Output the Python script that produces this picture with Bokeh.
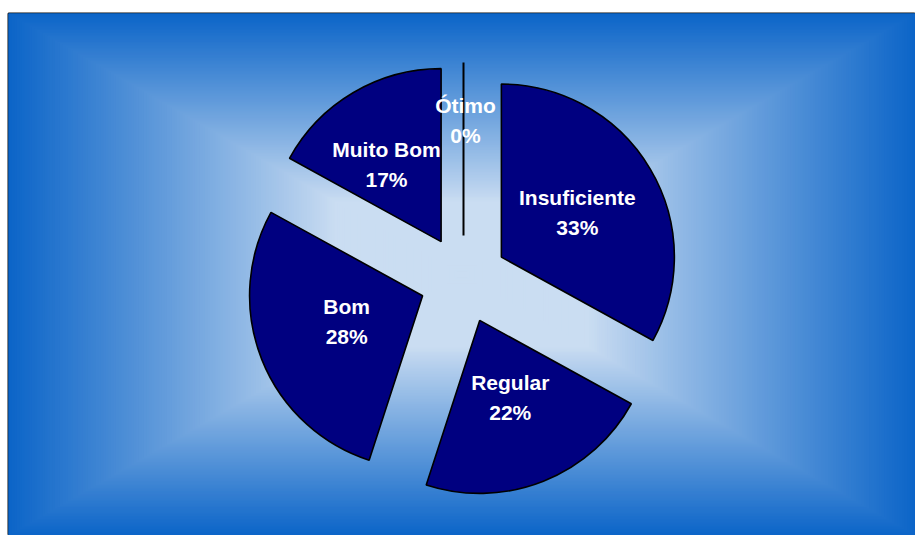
import numpy as np
from bokeh.plotting import figure
from bokeh.models import Range1d, ColumnDataSource
from bokeh.core.properties import value
from bokeh.embed import file_html
from bokeh.resources import INLINE

# ---- data ----
categories = ["Insuficiente", "Regular", "Bom", "Muito Bom", "Ótimo"]
values = [33, 22, 28, 17, 0]

# ---- layout / style ----
W, H = 907, 522
CX, CY = 455, 256        # pie centre (data units = pixels)
R = 173                  # radius
EXPLODE = 44             # explosion distance
label_frac = [0.51, 0.48, 0.464, 0.546, 0.665]
label_turn = [0.0, 0.0, -2.7, 4.7, -1.0]   # degrees
SLICE = "#000080"

p = figure(width=W + 8, height=H + 13, x_range=Range1d(0, W), y_range=Range1d(0, H),
           output_backend="svg", toolbar_location=None,
           x_axis_location=None, y_axis_location=None,
           min_border_left=8, min_border_right=0, min_border_top=13, min_border_bottom=0)
p.grid.visible = False
p.outline_line_color = "#111111"
p.outline_line_width = 2
p.border_fill_color = "white"
p.background_fill_color = "#0864c8"

# ---- rectangular "from centre" gradient background ----
c_in = np.array([202, 221, 242])
c_out = np.array([10, 100, 200])
N = 180
gx, gy = W / 2, H / 2
ts = 1 - np.arange(N) / N
s = np.clip((ts - 0.28) / 0.72, 0, 1) ** 0.95
cols = []
for sv in s:
    c = (c_in + (c_out - c_in) * sv).astype(int)
    cols.append("#%02x%02x%02x" % tuple(c))
p.quad(left=gx - gx * ts * 1.01, right=gx + gx * ts * 1.01,
       bottom=gy - gy * ts * 1.01, top=gy + gy * ts * 1.01,
       fill_color=cols, line_color=None)

# ---- pie geometry from data ----
vals = np.array(values, dtype=float)
frac = vals / vals.sum()
cum = np.concatenate([[0], np.cumsum(frac)])
start = np.deg2rad(90 - 360 * cum[:-1])
end = np.deg2rad(90 - 360 * cum[1:])
mid = (start + end) / 2
ax = CX + EXPLODE * np.cos(mid)
ay = CY + EXPLODE * np.sin(mid)

nz = vals > 0
src = ColumnDataSource(dict(x=ax[nz], y=ay[nz], start=start[nz], end=end[nz]))
p.wedge(x="x", y="y", radius=R, start_angle="start", end_angle="end",
        direction="clock", fill_color=SLICE, line_color="black", line_width=1.6,
        source=src)

# zero-value slices drawn as a single radius line
z = ~nz
p.segment(x0=ax[z], y0=ay[z], x1=ax[z] + R * np.cos(mid[z]), y1=ay[z] + R * np.sin(mid[z]),
          line_color="black", line_width=2)

# ---- labels ----
lf = np.array(label_frac)
la = mid + np.deg2rad(label_turn)
lx = ax + lf * R * np.cos(la)
ly = ay + lf * R * np.sin(la)
texts = [f"{c}\n{round(f * 100)}%" for c, f in zip(categories, frac)]
p.text(x=lx, y=ly, text=texts, text_align="center", text_baseline="middle",
       text_color="white", text_font=value("Liberation Sans"), text_font_style="bold",
       text_font_size="21px", text_line_height=1.32)

open("out.html", "w").write(file_html(p, INLINE))
